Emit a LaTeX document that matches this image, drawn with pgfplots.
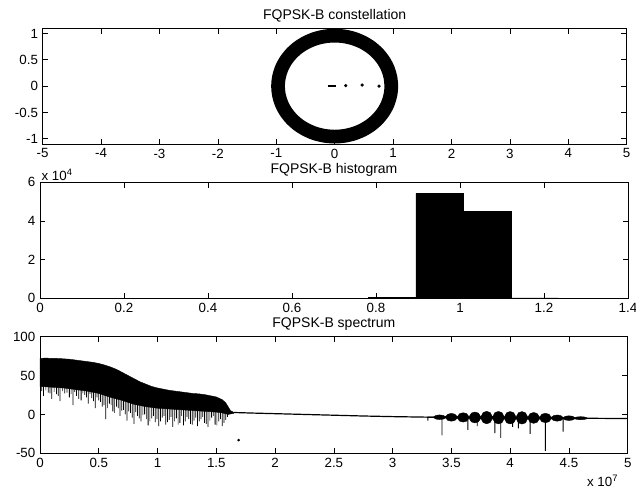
\documentclass[border=0pt]{standalone}
\usepackage{fontspec}
\setmainfont{Liberation Sans}
\usepackage{pgfplots}
\pgfplotsset{compat=1.18}
\pgfplotsset{
  xtick scale label code/.code={x 10\textsuperscript{#1}},
  ytick scale label code/.code={x 10\textsuperscript{#1}},
  myaxis/.style={
    scale only axis, anchor=north west, enlargelimits=false,
    axis line style={line width=0.6pt},
    tick style={line width=0.5pt, black},
    major tick length=4pt,
    /pgf/number format/assume math mode=true,
    tick label style={font=\fontsize{10}{11}\selectfont},
    title style={font=\fontsize{10.5}{12}\selectfont, at={(0.5,1)}, anchor=south, yshift=-3.5pt, inner sep=2pt},
  }
}
\begin{document}
\begin{tikzpicture}
\useasboundingbox (0pt,0pt) rectangle (477pt,-371.25pt);
% ---------------- constellation ----------------
\begin{axis}[myaxis, at={(32pt,-21.2pt)}, width=438pt, height=86.8pt,
  xmin=-5, xmax=5, ymin=-1.1, ymax=1.1,
  xtick={-5,-4,-3,-2,-1,0,1,2,3,4,5}, ytick={-1,-0.5,0,0.5,1},
  title={FQPSK-B constellation}]
\addplot[black, line width=10.3pt, smooth, line join=round] coordinates {
(0.970,0) (0.955,0.167) (0.912,0.328) (0.840,0.480) (0.743,0.617) (0.624,0.735)
(0.485,0.831) (0.332,0.902) (0.168,0.945) (0,0.960) (-0.168,0.945) (-0.332,0.902)
(-0.485,0.831) (-0.624,0.735) (-0.743,0.617) (-0.840,0.480) (-0.912,0.328) (-0.955,0.167)
(-0.970,0) (-0.955,-0.167) (-0.912,-0.328) (-0.840,-0.480) (-0.743,-0.617) (-0.624,-0.735)
(-0.485,-0.831) (-0.332,-0.902) (-0.168,-0.945) (0,-0.960) (0.168,-0.945) (0.332,-0.902)
(0.485,-0.831) (0.624,-0.735) (0.743,-0.617) (0.840,-0.480) (0.912,-0.328) (0.955,-0.167)
(0.970,0) (0.955,0.167)};
\addplot[black, line width=2pt] coordinates {(-0.12,0) (0.03,0)};
\addplot[black, only marks, mark=*, mark size=1pt] coordinates {(0.19,0.01) (0.47,0.02) (0.76,0)};
\end{axis}
% ---------------- histogram ----------------
\begin{axis}[myaxis, at={(30pt,-136.7pt)}, width=441pt, height=87pt,
  xmin=0, xmax=1.4, ymin=0, ymax=60000,
  xtick={0,0.2,0.4,0.6,0.8,1,1.2,1.4}, ytick={0,20000,40000,60000},
  scaled y ticks=base 10:-4,
  every y tick scale label/.style={at={(rel axis cs:0,1)}, anchor=south west, inner sep=1pt, font=\fontsize{10}{11}\selectfont},
  title={FQPSK-B histogram}]
\addplot[ybar interval, fill=black, draw=black] coordinates {
(0.782,300) (0.895,54300) (1.008,44800) (1.121,150) (1.234,0)};
\end{axis}
% ---------------- spectrum ----------------
\begin{axis}[myaxis, at={(30pt,-252.5pt)}, width=440.8pt, height=87.5pt,
  xmin=0, xmax=5e7, ymin=-50, ymax=100,
  xtick={0,5e6,1e7,1.5e7,2e7,2.5e7,3e7,3.5e7,4e7,4.5e7,5e7},
  ytick={-50,0,50,100},
  scaled x ticks=base 10:-7,
  every x tick scale label/.style={at={(rel axis cs:1,0)}, anchor=north east, yshift=-15pt, xshift=-6pt, inner sep=1pt, font=\fontsize{10}{11}\selectfont},
  title={FQPSK-B spectrum}]
\addplot[fill=black, draw=black, line width=0.3pt] coordinates {
(0,72) (0.05e7,72.5) (0.1e7,72) (0.15e7,72) (0.2e7,71.5) (0.25e7,71) (0.3e7,70)
(0.35e7,69) (0.4e7,68) (0.45e7,67) (0.5e7,65.5) (0.55e7,63.5) (0.6e7,61)
(0.65e7,58) (0.7e7,54) (0.75e7,50) (0.8e7,46) (0.85e7,42) (0.9e7,39)
(0.95e7,36) (1.0e7,34) (1.05e7,32.5) (1.1e7,31) (1.15e7,30) (1.2e7,29)
(1.25e7,28) (1.3e7,27) (1.35e7,26.5) (1.4e7,25.5) (1.45e7,24) (1.5e7,22.5)
(1.55e7,19) (1.58e7,15) (1.6e7,10) (1.62e7,5) (1.65e7,2.5)
(1.65e7,1.5) (1.6e7,0) (1.55e7,2) (1.5e7,3) (1.4e7,4) (1.3e7,5) (1.2e7,6)
(1.1e7,7) (1.0e7,8) (0.9e7,10) (0.8e7,13) (0.7e7,18) (0.6e7,22) (0.5e7,27)
(0.4e7,30) (0.3e7,32) (0.2e7,34) (0.1e7,35) (0,36)};
\addplot[black, line width=0.6pt] coordinates {
(0.03e7,37) (0.03e7,24) (0.03e7,37)
(0.07e7,37) (0.07e7,28) (0.07e7,37)
(0.10e7,37) (0.10e7,20) (0.10e7,37)
(0.14e7,36) (0.14e7,26) (0.14e7,36)
(0.17e7,36) (0.17e7,17) (0.17e7,36)
(0.21e7,36) (0.21e7,27) (0.21e7,36)
(0.25e7,35) (0.25e7,22) (0.25e7,35)
(0.28e7,35) (0.28e7,12) (0.28e7,35)
(0.31e7,34) (0.31e7,24) (0.31e7,34)
(0.35e7,34) (0.35e7,18) (0.35e7,34)
(0.38e7,33) (0.38e7,25) (0.38e7,33)
(0.41e7,33) (0.41e7,14) (0.41e7,33)
(0.44e7,32) (0.44e7,21) (0.44e7,32)
(0.47e7,31) (0.47e7,8) (0.47e7,31)
(0.50e7,30) (0.50e7,18) (0.50e7,30)
(0.53e7,29) (0.53e7,10) (0.53e7,29)
(0.56e7,27) (0.56e7,-6) (0.56e7,27)
(0.59e7,26) (0.59e7,14) (0.59e7,26)
(0.62e7,24) (0.62e7,4) (0.62e7,24)
(0.65e7,23) (0.65e7,10) (0.65e7,23)
(0.68e7,21) (0.68e7,-2) (0.68e7,21)
(0.71e7,19) (0.71e7,6) (0.71e7,19)
(0.74e7,17) (0.74e7,-8) (0.74e7,17)
(0.77e7,16) (0.77e7,2) (0.77e7,16)
(0.80e7,15) (0.80e7,-12) (0.80e7,15)
(0.83e7,14) (0.83e7,-2) (0.83e7,14)
(0.86e7,13) (0.86e7,-9) (0.86e7,13)
(0.89e7,12) (0.89e7,0) (0.89e7,12)
(0.92e7,12) (0.92e7,-14) (0.92e7,12)
(0.95e7,11) (0.95e7,-5) (0.95e7,11)
(0.98e7,10) (0.98e7,-10) (0.98e7,10)
(1.01e7,10) (1.01e7,-15) (1.01e7,10)
(1.04e7,9) (1.04e7,-4) (1.04e7,9)
(1.07e7,9) (1.07e7,-13) (1.07e7,9)
(1.10e7,9) (1.10e7,-7) (1.10e7,9)
(1.13e7,8) (1.13e7,-16) (1.13e7,8)
(1.16e7,8) (1.16e7,-5) (1.16e7,8)
(1.19e7,8) (1.19e7,-11) (1.19e7,8)
(1.22e7,7) (1.22e7,-14) (1.22e7,7)
(1.25e7,7) (1.25e7,-3) (1.25e7,7)
(1.28e7,7) (1.28e7,-12) (1.28e7,7)
(1.31e7,7) (1.31e7,-8) (1.31e7,7)
(1.34e7,6) (1.34e7,-15) (1.34e7,6)
(1.37e7,6) (1.37e7,-6) (1.37e7,6)
(1.40e7,6) (1.40e7,-11) (1.40e7,6)
(1.43e7,6) (1.43e7,-16) (1.43e7,6)
(1.46e7,5) (1.46e7,-4) (1.46e7,5)
(1.49e7,5) (1.49e7,-13) (1.49e7,5)
(1.52e7,5) (1.52e7,-9) (1.52e7,5)
(1.55e7,4) (1.55e7,-15) (1.55e7,4)
(1.58e7,3) (1.58e7,-7) (1.58e7,3)};
\addplot[black, line width=0.5pt] coordinates {
(0.015e7,37) (0.015e7,30) (0.015e7,37)
(0.05e7,37) (0.05e7,31) (0.05e7,37)
(0.085e7,37) (0.085e7,27) (0.085e7,37)
(0.12e7,36) (0.12e7,29) (0.12e7,36)
(0.155e7,36) (0.155e7,24) (0.155e7,36)
(0.19e7,36) (0.19e7,30) (0.19e7,36)
(0.23e7,35) (0.23e7,28) (0.23e7,35)
(0.265e7,35) (0.265e7,26) (0.265e7,35)
(0.295e7,34) (0.295e7,29) (0.295e7,34)
(0.33e7,34) (0.33e7,20) (0.33e7,34)
(0.365e7,33) (0.365e7,27) (0.365e7,33)
(0.395e7,33) (0.395e7,22) (0.395e7,33)
(0.425e7,32) (0.425e7,26) (0.425e7,32)
(0.455e7,31) (0.455e7,17) (0.455e7,31)
(0.485e7,30) (0.485e7,22) (0.485e7,30)
(0.515e7,29) (0.515e7,16) (0.515e7,29)
(0.545e7,28) (0.545e7,12) (0.545e7,28)
(0.575e7,26) (0.575e7,8) (0.575e7,26)
(0.605e7,25) (0.605e7,12) (0.605e7,25)
(0.635e7,23) (0.635e7,2) (0.635e7,23)
(0.665e7,22) (0.665e7,8) (0.665e7,22)
(0.695e7,20) (0.695e7,5) (0.695e7,20)
(0.725e7,18) (0.725e7,0) (0.725e7,18)
(0.755e7,16) (0.755e7,4) (0.755e7,16)
(0.785e7,15) (0.785e7,-4) (0.785e7,15)
(0.815e7,14) (0.815e7,3) (0.815e7,14)
(0.845e7,13) (0.845e7,-5) (0.845e7,13)
(0.875e7,12) (0.875e7,-1) (0.875e7,12)
(0.905e7,12) (0.905e7,-6) (0.905e7,12)
(0.935e7,11) (0.935e7,-9) (0.935e7,11)
(0.965e7,10) (0.965e7,-2) (0.965e7,10)
(0.995e7,10) (0.995e7,-6) (0.995e7,10)
(1.025e7,9) (1.025e7,-9) (1.025e7,9)
(1.055e7,9) (1.055e7,-2) (1.055e7,9)
(1.085e7,9) (1.085e7,-10) (1.085e7,9)
(1.115e7,8) (1.115e7,-3) (1.115e7,8)
(1.145e7,8) (1.145e7,-9) (1.145e7,8)
(1.175e7,8) (1.175e7,-13) (1.175e7,8)
(1.205e7,7) (1.205e7,-2) (1.205e7,7)
(1.235e7,7) (1.235e7,-9) (1.235e7,7)
(1.265e7,7) (1.265e7,-6) (1.265e7,7)
(1.295e7,7) (1.295e7,-13) (1.295e7,7)
(1.325e7,6) (1.325e7,-4) (1.325e7,6)
(1.355e7,6) (1.355e7,-9) (1.355e7,6)
(1.385e7,6) (1.385e7,-3) (1.385e7,6)
(1.415e7,6) (1.415e7,-12) (1.415e7,6)
(1.445e7,5) (1.445e7,-8) (1.445e7,5)
(1.475e7,5) (1.475e7,-2) (1.475e7,5)
(1.505e7,5) (1.505e7,-14) (1.505e7,5)
(1.535e7,4) (1.535e7,-6) (1.535e7,4)
(1.565e7,4) (1.565e7,-11) (1.565e7,4)
(1.595e7,3) (1.595e7,-3) (1.595e7,3)};
\addplot[black, line width=0.9pt] coordinates {
(1.65e7,2.5) (1.8e7,1.8) (2.0e7,1) (2.25e7,0) (2.5e7,-1) (2.75e7,-2) (3.0e7,-2.8)
(3.3e7,-3.5) (3.5e7,-3.7) (4.0e7,-4.25) (4.5e7,-4.75) (5.0e7,-5.3)};
\addplot[fill=black, draw=black, line width=0.3pt] coordinates {
(3.35e7,-2.8) (3.37e7,-1.2) (3.4e7,-0.6) (3.43e7,-1.2)
(3.45e7,-2.9) (3.47e7,0.3) (3.5e7,1.3) (3.53e7,0.3)
(3.55e7,-3.0) (3.57e7,1.0) (3.6e7,2.2) (3.63e7,1.0)
(3.65e7,-3.1) (3.67e7,1.7) (3.7e7,3.1) (3.73e7,1.7)
(3.75e7,-3.2) (3.77e7,2.4) (3.8e7,4.0) (3.83e7,2.4)
(3.85e7,-3.3) (3.87e7,2.3) (3.9e7,3.85) (3.93e7,2.3)
(3.95e7,-3.4) (3.97e7,2.2) (4.0e7,3.75) (4.03e7,2.2)
(4.05e7,-3.5) (4.07e7,2.1) (4.1e7,3.65) (4.13e7,2.1)
(4.15e7,-3.6) (4.17e7,1.1) (4.2e7,2.55) (4.23e7,1.1)
(4.25e7,-3.7) (4.27e7,0.3) (4.3e7,1.45) (4.33e7,0.3)
(4.35e7,-3.8) (4.37e7,-1.45) (4.4e7,-0.65) (4.43e7,-1.45)
(4.45e7,-3.9) (4.47e7,-2.35) (4.5e7,-1.75) (4.53e7,-2.35)
(4.55e7,-4.0) (4.57e7,-3.25) (4.6e7,-2.85) (4.63e7,-3.25) (4.65e7,-4.1)
(4.65e7,-5.7) (4.63e7,-6.45) (4.6e7,-6.85) (4.57e7,-6.45) (4.55e7,-5.6)
(4.53e7,-7.15) (4.5e7,-7.75) (4.47e7,-7.15) (4.45e7,-5.5)
(4.43e7,-7.85) (4.4e7,-8.65) (4.37e7,-7.85) (4.35e7,-5.4)
(4.33e7,-9.4) (4.3e7,-10.55) (4.27e7,-9.4) (4.25e7,-5.3)
(4.23e7,-10.0) (4.2e7,-11.45) (4.17e7,-10.0) (4.15e7,-5.2)
(4.13e7,-10.8) (4.1e7,-12.35) (4.07e7,-10.8) (4.05e7,-5.1)
(4.03e7,-10.7) (4.0e7,-12.25) (3.97e7,-10.7) (3.95e7,-5.0)
(3.93e7,-10.6) (3.9e7,-12.15) (3.87e7,-10.6) (3.85e7,-4.9)
(3.83e7,-10.4) (3.8e7,-12) (3.77e7,-10.4) (3.75e7,-4.8)
(3.73e7,-9.5) (3.7e7,-10.9) (3.67e7,-9.5) (3.65e7,-4.6)
(3.63e7,-8.6) (3.6e7,-9.8) (3.57e7,-8.6) (3.55e7,-4.5)
(3.53e7,-7.7) (3.5e7,-8.7) (3.47e7,-7.7) (3.45e7,-4.4)
(3.43e7,-6.0) (3.4e7,-6.6) (3.37e7,-6.0) (3.35e7,-4.3)};
\addplot[black, line width=0.7pt] coordinates {
(3.3e7,-3.5) (3.3e7,-8) (3.3e7,-3.5)
(3.42e7,-3.6) (3.42e7,-27) (3.42e7,-3.6)
(3.64e7,-3.9) (3.64e7,-20) (3.64e7,-3.9)
(3.72e7,-4) (3.72e7,-15) (3.72e7,-4)
(3.87e7,-4.1) (3.87e7,-24) (3.87e7,-4.1)
(3.92e7,-4.2) (3.92e7,-30) (3.92e7,-4.2)
(4.02e7,-4.3) (4.02e7,-16) (4.02e7,-4.3)
(4.07e7,-4.3) (4.07e7,-18) (4.07e7,-4.3)
(4.17e7,-4.4) (4.17e7,-25) (4.17e7,-4.4)
(4.3e7,-4.55) (4.3e7,-47) (4.3e7,-4.55)
(4.45e7,-4.7) (4.45e7,-22) (4.45e7,-4.7)};
\addplot[black, only marks, mark=*, mark size=0.8pt] coordinates {(1.69e7,-33)};
\end{axis}
\end{tikzpicture}
\end{document}
